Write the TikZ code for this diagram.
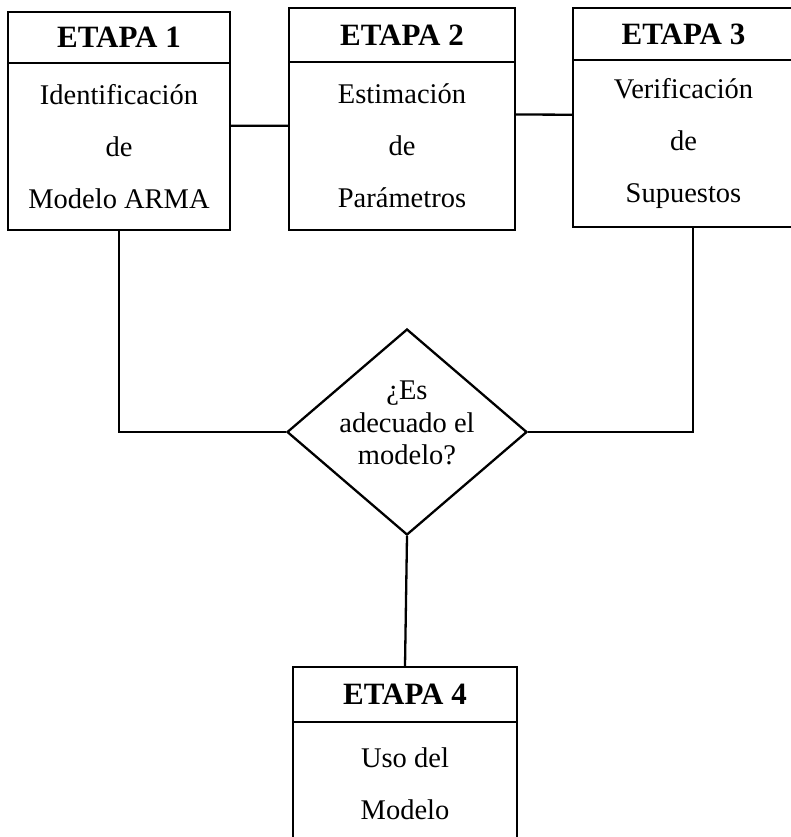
\documentclass[tikz,border=0pt]{standalone}
\usepackage{fontspec}
\setmainfont{Liberation Serif}
\usetikzlibrary{shapes.geometric,calc}
\begin{document}
\begin{tikzpicture}[x=1pt,y=1pt,
  box/.style={draw, line width=2.3pt, rectangle, inner sep=0pt, align=center,
    font=\fontsize{28.5}{52}\selectfont},
  head/.style={box, font=\fontsize{31}{36}\selectfont\bfseries},
  decision/.style={draw, line width=2.3pt, diamond, inner sep=0pt,
    minimum width=240pt, minimum height=206pt, font=\fontsize{28.5}{32.5}\selectfont},
  conn/.style={draw, line width=2.3pt}]
\clip (0,0) rectangle (791,-837);
\fill[white] (0,0) rectangle (791,-837);
% Stage 1
\node[head, minimum width=222pt, minimum height=51pt] (h1) at (119,-37.5) {ETAPA 1};
\node[box, minimum width=222pt, minimum height=167pt] (b1) at (119,-146.5) {Identificación\\de\\Modelo ARMA};
% Stage 2
\node[head, minimum width=226pt, minimum height=54pt] (h2) at (402,-35) {ETAPA 2};
\node[box, minimum width=226pt, minimum height=168pt] (b2) at (402,-146) {Estimación\\de\\Parámetros};
% Stage 3
\node[head, minimum width=221pt, minimum height=52pt] (h3) at (683.5,-34) {ETAPA 3};
\node[box, minimum width=221pt, minimum height=167pt] (b3) at (683.5,-143.5) {Verificación\\de\\Supuestos};
% Decision
\node[decision] (d) at (407,-432) {\raisebox{0pt}[0pt][0pt]{\makebox[0pt]{\begin{tabular}{@{}c@{}}¿Es\\adecuado el\\modelo?\end{tabular}}}};
% Stage 4
\node[head, minimum width=224pt, minimum height=55pt] (h4) at (405,-694.5) {ETAPA 4};
\node[box, minimum width=224pt, minimum height=124pt] (b4) at (405,-784) {Uso del\\Modelo};
% Connectors
\draw[conn] ($(b1.north east)!0.377!(b1.south east)$) -- ($(b2.north west)!0.381!(b2.south west)$);
\draw[conn] ($(b2.north east)!0.315!(b2.south east)$) -- ($(b3.north west)!0.33!(b3.south west)$);
\draw[conn] (b1.south) |- (d.west);
\draw[conn] ($(b3.south west)!0.543!(b3.south east)$) |- (d.east);
\draw[conn] (d.south) -- (h4.north);
\end{tikzpicture}
\end{document}
